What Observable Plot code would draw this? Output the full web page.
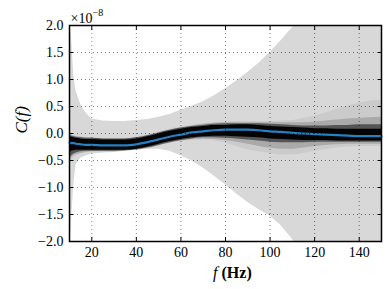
<!DOCTYPE html>
<html>
<head>
<meta charset="utf-8">
<script src="https://cdn.jsdelivr.net/npm/d3@7"></script>
<script src="https://cdn.jsdelivr.net/npm/@observablehq/plot@0.6"></script>
<style>
  html, body { margin: 0; padding: 0; background: #fff; }
</style>
</head>
<body>
<div id="chart"></div>
<script>
// values in units of 1e-8
const freq = [10, 11, 12, 13, 15, 17, 20, 25, 30, 35, 40, 45, 50, 55, 60, 65, 70, 75, 80, 85, 90, 95, 100, 105, 110, 115, 120, 125, 130, 135, 140, 145, 150];
const envUpper = [2.3, 1.7, 1.05, 0.78, 0.54, 0.40, 0.27, 0.23, 0.22, 0.22, 0.24, 0.26, 0.30, 0.35, 0.43, 0.51, 0.59, 0.70, 0.83, 0.97, 1.13, 1.30, 1.50, 1.72, 1.96, 2.22, 2.3, 2.3, 2.3, 2.3, 2.3, 2.3, 2.3];
const envLower = [-2.3, -1.55, -0.92, -0.58, -0.46, -0.42, -0.38, -0.36, -0.35, -0.33, -0.31, -0.29, -0.29, -0.33, -0.41, -0.51, -0.64, -0.79, -0.95, -1.12, -1.28, -1.41, -1.53, -1.71, -1.96, -2.25, -2.3, -2.3, -2.3, -2.3, -2.3, -2.3, -2.3];
const outerLo = [-0.58, -0.50, -0.45, -0.42, -0.38, -0.36, -0.34, -0.33, -0.33, -0.32, -0.30, -0.26, -0.22, -0.18, -0.15, -0.13, -0.12, -0.14, -0.18, -0.24, -0.30, -0.34, -0.37, -0.40, -0.40, -0.37, -0.33, -0.30, -0.27, -0.25, -0.24, -0.24, -0.24];
const outerHi = [0.0, -0.02, -0.04, -0.05, -0.06, -0.07, -0.08, -0.09, -0.10, -0.09, -0.07, -0.02, 0.03, 0.08, 0.12, 0.15, 0.18, 0.20, 0.21, 0.22, 0.22, 0.22, 0.22, 0.23, 0.24, 0.28, 0.32, 0.38, 0.45, 0.51, 0.56, 0.60, 0.62];
const midLo = [-0.52, -0.45, -0.41, -0.39, -0.37, -0.35, -0.34, -0.34, -0.34, -0.33, -0.31, -0.28, -0.23, -0.18, -0.14, -0.11, -0.10, -0.11, -0.13, -0.16, -0.20, -0.24, -0.27, -0.29, -0.29, -0.27, -0.24, -0.22, -0.21, -0.20, -0.20, -0.20, -0.20];
const midHi = [-0.01, -0.03, -0.05, -0.06, -0.07, -0.08, -0.09, -0.10, -0.10, -0.10, -0.08, -0.04, 0.01, 0.06, 0.10, 0.14, 0.17, 0.19, 0.20, 0.20, 0.20, 0.20, 0.20, 0.20, 0.20, 0.20, 0.21, 0.23, 0.25, 0.27, 0.28, 0.29, 0.30];
const innerLo = [-0.46, -0.41, -0.38, -0.36, -0.34, -0.33, -0.33, -0.33, -0.33, -0.32, -0.30, -0.27, -0.22, -0.17, -0.13, -0.10, -0.08, -0.08, -0.09, -0.10, -0.12, -0.14, -0.16, -0.17, -0.17, -0.17, -0.16, -0.16, -0.16, -0.16, -0.16, -0.16, -0.16];
const innerHi = [-0.04, -0.05, -0.06, -0.07, -0.08, -0.09, -0.09, -0.10, -0.10, -0.10, -0.08, -0.04, 0.01, 0.06, 0.10, 0.13, 0.15, 0.17, 0.18, 0.18, 0.18, 0.18, 0.17, 0.16, 0.15, 0.14, 0.14, 0.14, 0.15, 0.15, 0.16, 0.16, 0.16];
const coreLo = [-0.36, -0.33, -0.32, -0.31, -0.31, -0.31, -0.31, -0.31, -0.31, -0.31, -0.29, -0.25, -0.20, -0.15, -0.11, -0.08, -0.06, -0.05, -0.05, -0.06, -0.07, -0.08, -0.10, -0.11, -0.12, -0.13, -0.13, -0.13, -0.14, -0.14, -0.14, -0.14, -0.14];
const coreHi = [-0.06, -0.07, -0.08, -0.09, -0.10, -0.11, -0.11, -0.12, -0.12, -0.12, -0.10, -0.06, -0.01, 0.04, 0.08, 0.11, 0.13, 0.15, 0.15, 0.16, 0.16, 0.15, 0.13, 0.12, 0.11, 0.10, 0.09, 0.09, 0.08, 0.08, 0.08, 0.08, 0.08];
const median = [-0.17, -0.18, -0.18, -0.19, -0.20, -0.21, -0.21, -0.22, -0.22, -0.22, -0.20, -0.16, -0.11, -0.06, -0.02, 0.02, 0.04, 0.06, 0.07, 0.07, 0.07, 0.06, 0.04, 0.03, 0.01, 0.00, -0.01, -0.02, -0.03, -0.04, -0.05, -0.05, -0.05];
const xTicks = [20, 40, 60, 80, 100, 120, 140];
const yTicks = [-2.0, -1.5, -1.0, -0.5, 0.0, 0.5, 1.0, 1.5, 2.0];
const yGrid = [-1.5, -1.0, -0.5, 0.0, 0.5, 1.0, 1.5];
const offsetBase = "×10";
const offsetExp = "−8";

const rows = freq.map((f, i) => ({
  f, envUpper: envUpper[i], envLower: envLower[i],
  outerLo: outerLo[i], outerHi: outerHi[i],
  midLo: midLo[i], midHi: midHi[i],
  innerLo: innerLo[i], innerHi: innerHi[i],
  coreLo: coreLo[i], coreHi: coreHi[i],
  median: median[i]
}));

const serif = "'Liberation Serif', 'DejaVu Serif', serif";

const chart = Plot.plot({
  width: 391,
  height: 289,
  marginLeft: 69,
  marginRight: 10,
  marginTop: 25,
  marginBottom: 48,
  style: { fontFamily: serif, fontSize: "14px", background: "#fff", color: "#000" },
  x: { domain: [10, 150] },
  y: { domain: [-2, 2] },
  marks: [
    Plot.areaY(rows, { x: "f", y1: "envLower", y2: "envUpper", fill: "#d8d8d8", clip: true }),
    Plot.areaY(rows, { x: "f", y1: "outerLo", y2: "outerHi", fill: "#000", fillOpacity: 0.06, curve: "monotone-x", clip: true }),
    Plot.areaY(rows, { x: "f", y1: "midLo", y2: "midHi", fill: "#000", fillOpacity: 0.16, curve: "monotone-x", clip: true }),
    Plot.areaY(rows, { x: "f", y1: "innerLo", y2: "innerHi", fill: "#000", fillOpacity: 0.5, curve: "monotone-x", clip: true }),
    Plot.areaY(rows, { x: "f", y1: "coreLo", y2: "coreHi", fill: "#000", fillOpacity: 0.95, curve: "monotone-x", clip: true }),
    Plot.lineY(rows, { x: "f", y: "median", stroke: "#2580c4", strokeWidth: 2.2, curve: "monotone-x" }),
    Plot.gridX(xTicks, { stroke: "#000", strokeOpacity: 0.5, strokeDasharray: "1,3" }),
    Plot.gridY(yGrid, { stroke: "#000", strokeOpacity: 0.5, strokeDasharray: "1,3" }),
    Plot.axisX(xTicks, { anchor: "bottom", tickSize: 0, tickPadding: 6, label: null }),
    Plot.axisX(xTicks, { anchor: "bottom", tickSize: -4, tickFormat: () => "", label: null }),
    Plot.axisX(xTicks, { anchor: "top", tickSize: -4, tickFormat: () => "", label: null }),
    Plot.axisY(yTicks, { anchor: "left", tickSize: 0, tickPadding: 6, tickFormat: d3.format(".1f"), label: null }),
    Plot.axisY(yTicks, { anchor: "left", tickSize: -4, tickFormat: () => "", label: null }),
    Plot.axisY(yTicks, { anchor: "right", tickSize: -4, tickFormat: () => "", label: null }),
    Plot.frame({ stroke: "#000", strokeWidth: 1.5 }),
    Plot.text([offsetBase], { frameAnchor: "top-left", text: d => d, textAnchor: "start", lineAnchor: "bottom", dx: 1, dy: -3, fontSize: 14 }),
    Plot.text([offsetExp], { frameAnchor: "top-left", text: d => d, textAnchor: "start", lineAnchor: "bottom", dx: 23, dy: -10, fontSize: 10 }),
    Plot.text(["C(f)"], { frameAnchor: "left", text: d => d, rotate: -90, dx: -48, fontSize: 17, fontStyle: "italic" }),
    Plot.text(["f"], { frameAnchor: "bottom", text: d => d, textAnchor: "end", lineAnchor: "bottom", dx: -8, dy: 36, fontSize: 16, fontStyle: "italic" }),
    Plot.text(["(Hz)"], { frameAnchor: "bottom", text: d => d, textAnchor: "start", lineAnchor: "bottom", dx: -4, dy: 36, fontSize: 16, fontWeight: "bold" })
  ]
});
document.getElementById("chart").appendChild(chart);
</script>
</body>
</html>
